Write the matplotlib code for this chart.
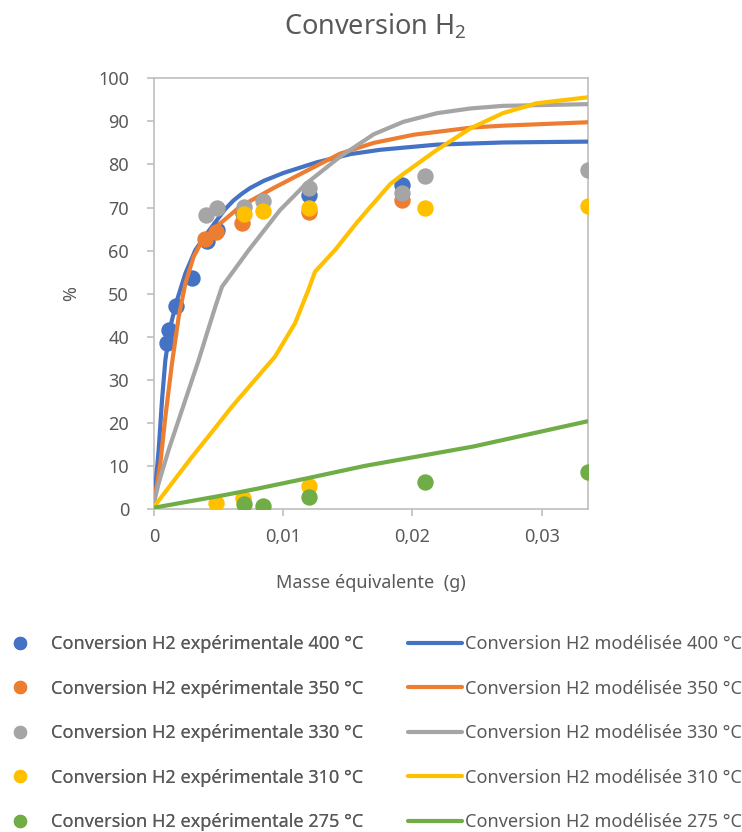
import numpy as np
import matplotlib
matplotlib.use('Agg')
import matplotlib.pyplot as plt

plt.rcParams['font.family'] = ['Noto Sans', 'DejaVu Sans']
plt.rcParams['mathtext.fontset'] = 'custom'
plt.rcParams['mathtext.rm'] = 'Noto Sans'

temps = ['400', '350', '330', '310', '275']
colors = ['#4472C4', '#ED7D31', '#A5A5A5', '#FFC000', '#70AD47']

# experimental points
exp_x_400 = [0.00098, 0.00119, 0.0017, 0.00297, 0.00408, 0.00485, 0.00685, 0.012, 0.0192]
exp_y_400 = [38.5, 41.6, 47.1, 53.6, 62.2, 64.8, 68.8, 72.9, 75.2]
exp_x_350 = [0.00395, 0.00477, 0.00684, 0.012, 0.0192]
exp_y_350 = [62.6, 64.4, 66.3, 69.0, 71.7]
exp_x_330 = [0.0040, 0.00485, 0.00699, 0.00841, 0.012, 0.0192, 0.021, 0.0336]
exp_y_330 = [68.3, 70.0, 70.2, 71.5, 74.5, 73.3, 77.3, 78.7]
exp_x_310 = [0.00477, 0.00686, 0.00699, 0.00841, 0.012, 0.012, 0.021, 0.0336]
exp_y_310 = [1.3, 2.5, 68.5, 69.3, 5.3, 70.0, 70.0, 70.4]
exp_x_275 = [0.00699, 0.00841, 0.012, 0.021, 0.0336]
exp_y_275 = [1.1, 0.8, 2.9, 6.3, 8.5]

# model curves
mod_x_400 = [0, 0.00036, 0.00062, 0.00088, 0.00126, 0.00178, 0.00243, 0.0032, 0.0041,
             0.00485, 0.0055, 0.00614, 0.0068, 0.00743, 0.0085, 0.01, 0.0126, 0.0152,
             0.0175, 0.0219, 0.027, 0.0336]
mod_y_400 = [1.5, 13.7, 25.3, 34.6, 42.3, 48.5, 54.7, 60.1, 64.0,
             67.0, 69.6, 71.6, 73.2, 74.5, 76.2, 78.0, 80.5, 82.4,
             83.4, 84.6, 85.1, 85.3]
mod_x_350 = [0, 0.00049, 0.00088, 0.00139, 0.00191, 0.00243, 0.00307, 0.00369, 0.00485,
             0.00666, 0.00924, 0.0118, 0.0144, 0.017, 0.0201, 0.0247, 0.027, 0.0336]
mod_y_350 = [1.5, 10.6, 21.4, 33.8, 44.6, 52.4, 58.6, 62.1, 65.6,
             70.2, 74.5, 78.5, 82.5, 85.0, 86.9, 88.6, 89.0, 89.8]
mod_x_330 = [0, 0.00036, 0.00113, 0.00191, 0.00268, 0.00346, 0.0041, 0.00475, 0.00526,
             0.00733, 0.00975, 0.0118, 0.0144, 0.017, 0.0193, 0.0219, 0.0245, 0.027, 0.0336]
mod_y_330 = [1.5, 6.0, 13.7, 20.7, 27.6, 34.6, 40.8, 47.0, 51.6,
             60.1, 69.4, 75.6, 81.8, 87.0, 89.9, 91.9, 93.0, 93.6, 94.0]
mod_x_310 = [0, 0.00139, 0.00294, 0.00449, 0.00604, 0.00759, 0.00937, 0.01091, 0.01194,
             0.01246, 0.014, 0.0157, 0.0167, 0.0183, 0.0193, 0.0219, 0.0245, 0.027, 0.0296, 0.0336]
mod_y_310 = [0.5, 6.0, 12.1, 17.9, 23.8, 29.2, 35.4, 43.1, 50.8,
             55.1, 60.1, 66.5, 70.0, 75.5, 77.8, 83.4, 88.4, 91.9, 94.2, 95.6]
mod_x_275 = [0, 0.0054, 0.0078, 0.0118, 0.0163, 0.0247, 0.0336]
mod_y_275 = [0.3, 3.2, 4.6, 7.1, 10.0, 14.5, 20.4]

exp_x = [exp_x_400, exp_x_350, exp_x_330, exp_x_310, exp_x_275]
exp_y = [exp_y_400, exp_y_350, exp_y_330, exp_y_310, exp_y_275]
mod_x = [mod_x_400, mod_x_350, mod_x_330, mod_x_310, mod_x_275]
mod_y = [mod_y_400, mod_y_350, mod_y_330, mod_y_310, mod_y_275]

text_col = '#595959'
axis_col = '#BFBFBF'
fs = 13

fig = plt.figure(figsize=(7.42, 8.32), dpi=100)
ax = fig.add_axes([154 / 742, 1 - 509 / 832, (588.3 - 154) / 742, (509 - 78.3) / 832])

exp_handles = []
mod_handles = []
z = 2
for i in range(5):
    h1, = ax.plot(exp_x[i], exp_y[i], ls='none', marker='o', ms=10.8, color=colors[i],
                  zorder=z, label='Conversion H2 expérimentale %s °C' % temps[i])
    h2, = ax.plot(mod_x[i], mod_y[i], lw=3.0, color=colors[i], zorder=z + 1,
                  solid_capstyle='round', solid_joinstyle='round',
                  label='Conversion H2 modélisée %s °C' % temps[i])
    exp_handles.append(h1)
    mod_handles.append(h2)
    z += 2

ax.set_xlim(0, 0.03361)
ax.set_ylim(0, 100)
ax.set_xticks([0, 0.01, 0.02, 0.03])
ax.set_xticklabels(['0', '0,01', '0,02', '0,03'])
ax.set_yticks(range(0, 101, 10))
for s in ax.spines.values():
    s.set_color(axis_col)
    s.set_linewidth(1.2)
ax.tick_params(colors=axis_col, labelcolor=text_col, labelsize=fs, length=5, width=1.2)
ax.tick_params(axis='y', pad=13)
ax.tick_params(axis='x', pad=9)

ax.set_xlabel('Masse équivalente  (g)', fontsize=fs, color=text_col, labelpad=20)
ax.set_ylabel('%', fontsize=fs, color=text_col, labelpad=13)
fig.text(375 / 742, 1 - 27 / 832, 'Conversion H$_\\mathregular{2}$', fontsize=19.5,
         color=text_col, ha='center', va='center')

leg1 = fig.legend(handles=exp_handles, loc='upper left', bbox_to_anchor=(11 / 742, 1 - 635 / 832),
                  frameon=False, fontsize=fs, handlelength=1.0, handletextpad=1.2,
                  labelspacing=1.47, borderpad=0, borderaxespad=0, markerscale=0.8, labelcolor=text_col)
leg2 = fig.legend(handles=mod_handles, loc='upper left', bbox_to_anchor=(408 / 742, 1 - 635 / 832),
                  frameon=False, fontsize=fs, handlelength=3.0, handletextpad=0.15,
                  labelspacing=1.47, borderpad=0, borderaxespad=0, labelcolor=text_col)
fig.add_artist(leg1)

fig.savefig('out.png', dpi=100)
